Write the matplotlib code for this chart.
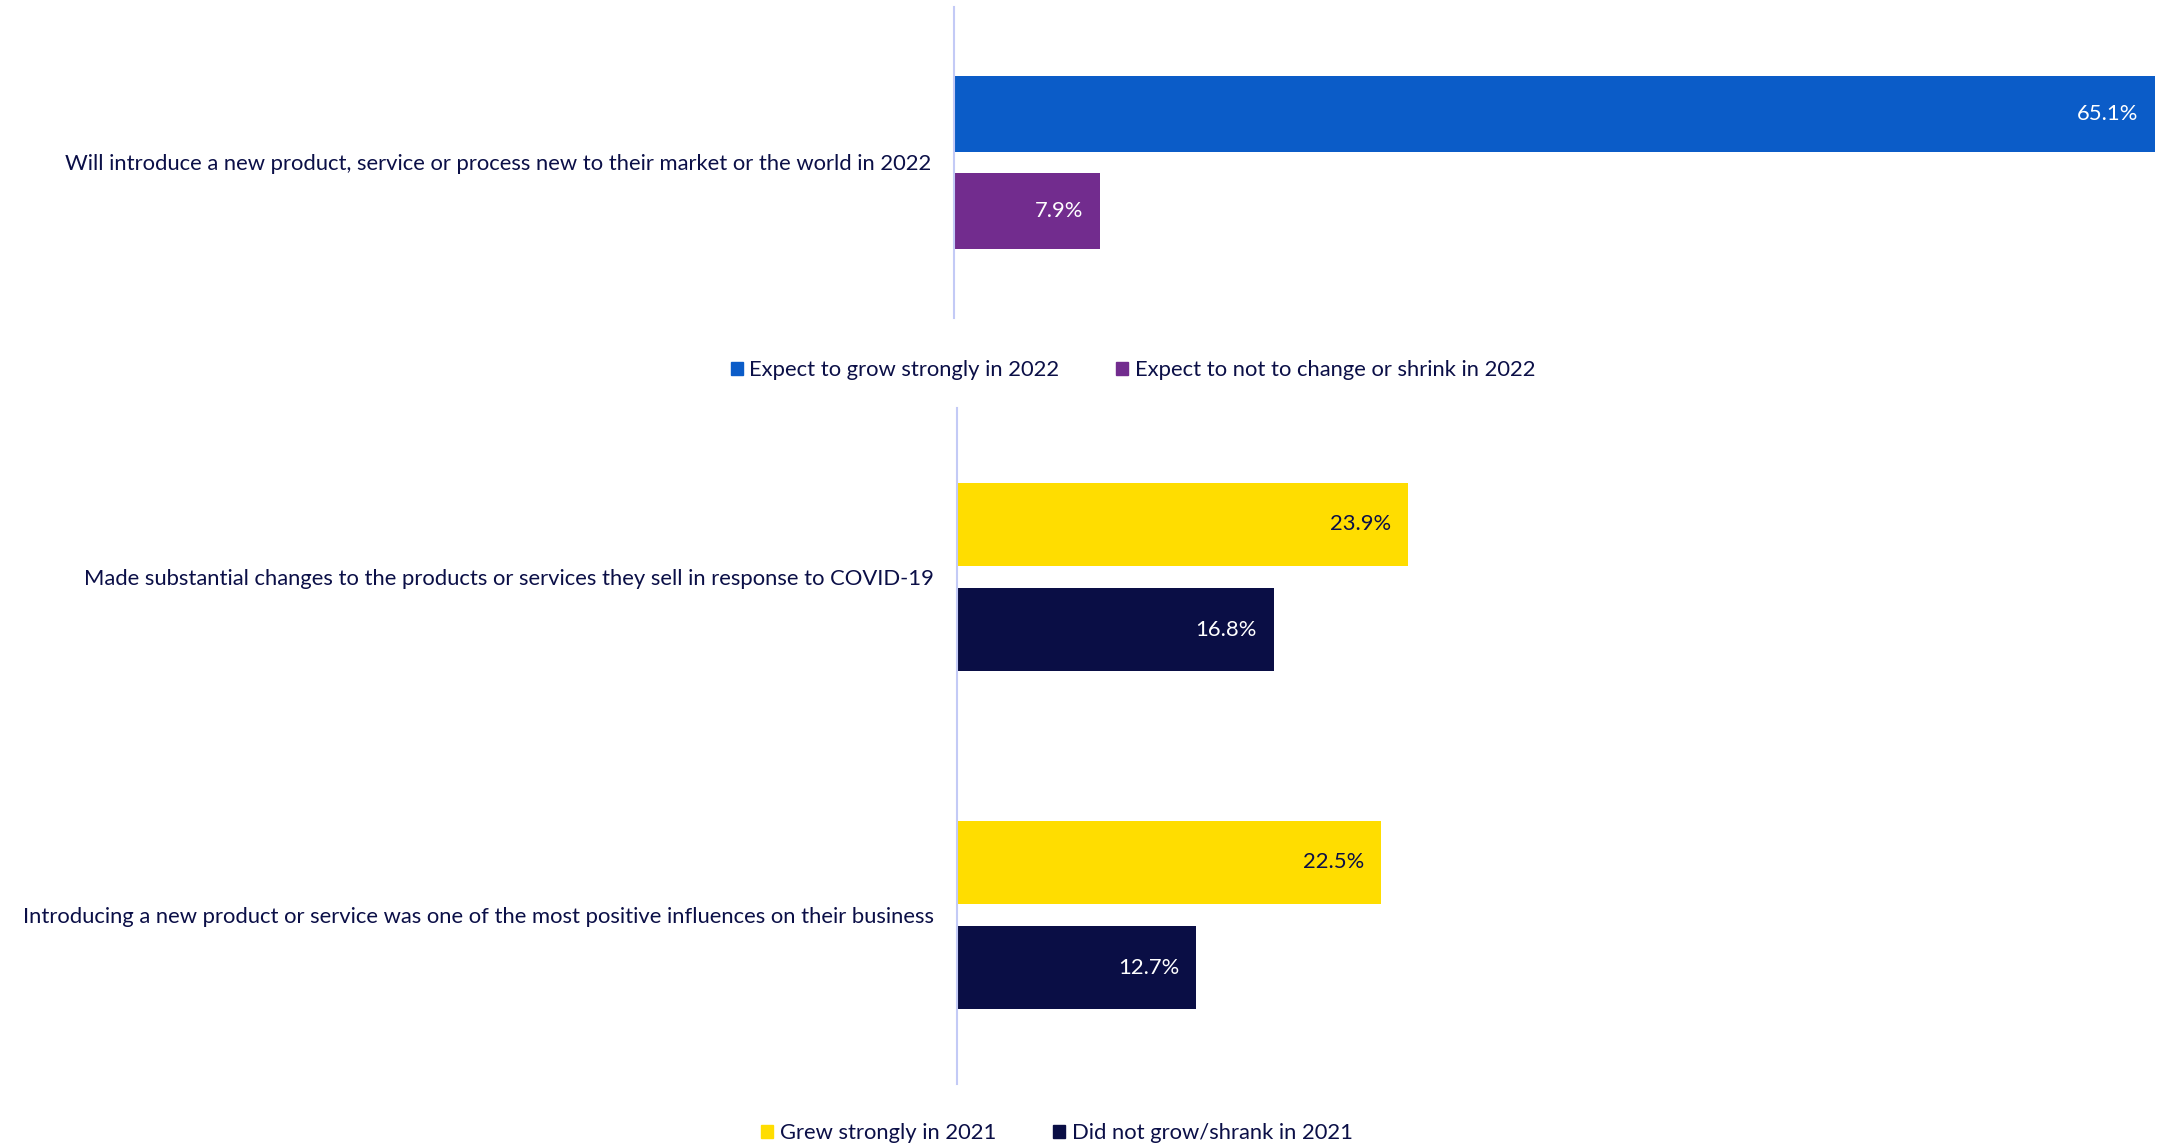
import matplotlib
matplotlib.use("Agg")
import matplotlib.pyplot as plt
from matplotlib.patches import Patch

# Survey results: share of businesses (%)
top_category = ["Will introduce a new product, service or process new to their market or the world in 2022"]
top_series = ["Expect to grow strongly in 2022", "Expect to not to change or shrink in 2022"]
top_values = [[65.1], [7.9]]

bottom_categories = [
    "Made substantial changes to the products or services they sell in response to COVID-19",
    "Introducing a new product or service was one of the most positive influences on their business",
]
bottom_series = ["Grew strongly in 2021", "Did not grow/shrank in 2021"]
bottom_values = [[23.9, 22.5], [16.8, 12.7]]

TEXT = "#0B0F47"
AXIS = "#C3CAF6"
top_colors = ["#0B5CC8", "#722C8E"]
bottom_colors = ["#FFDD00", "#0A0E45"]
label_colors_top = ["white", "white"]
label_colors_bottom = [TEXT, "white"]

plt.rcParams["font.family"] = ["Lato", "DejaVu Sans"]
FS = 15.8

W, H = 2159, 1145
fig = plt.figure(figsize=(W / 100, H / 100), dpi=100)


def px_axes(left, top, right, bottom):
    return fig.add_axes([left / W, 1 - bottom / H, (right - left) / W, (bottom - top) / H])


def draw_panel(ax, cats, values, colors, lab_colors, xmax):
    n = len(cats)
    offset, height = 0.156, 0.245
    for s, (vals, col, lc) in enumerate(zip(values, colors, lab_colors)):
        ys = [i + (-offset if s == 0 else offset) for i in range(n)]
        ax.barh(ys, vals, height=height, color=col)
        for y, v in zip(ys, vals):
            ax.annotate(f"{v:.1f}%", (v, y), xytext=(-12, 0), textcoords="offset points",
                        ha="right", va="center", color=lc, fontsize=FS)
    ax.set_xlim(0, xmax)
    ax.set_ylim(n - 0.5, -0.5)
    ax.set_yticks(range(n))
    ax.set_yticklabels(cats, fontsize=FS, color=TEXT)
    ax.tick_params(axis="y", length=0, pad=16.5)
    ax.set_xticks([])
    for side in ["top", "right", "bottom"]:
        ax.spines[side].set_visible(False)
    ax.spines["left"].set_color(AXIS)
    ax.spines["left"].set_linewidth(1.5)


ax1 = px_axes(954, 7, W, 318)
draw_panel(ax1, top_category, top_values, top_colors, label_colors_top, (W - 954) / 18.45)

ax2 = px_axes(957, 408, W, 1084)
draw_panel(ax2, bottom_categories, bottom_values, bottom_colors, label_colors_bottom, (W - 957) / 18.85)

leg_kw = dict(loc="center", ncol=2, frameon=False, fontsize=FS, labelcolor=TEXT,
              handlelength=0.55, handleheight=0.55, handletextpad=0.3, columnspacing=2.6,
              borderpad=0, borderaxespad=0)

fig.legend(handles=[Patch(color=c, label=l) for c, l in zip(top_colors, top_series)],
           bbox_to_anchor=(1133 / W, 1 - 370 / H), **leg_kw)
fig.legend(handles=[Patch(color=c, label=l) for c, l in zip(bottom_colors, bottom_series)],
           bbox_to_anchor=(1057 / W, 1 - 1133 / H), **leg_kw)

fig.savefig("out.png", dpi=100, facecolor="white")
